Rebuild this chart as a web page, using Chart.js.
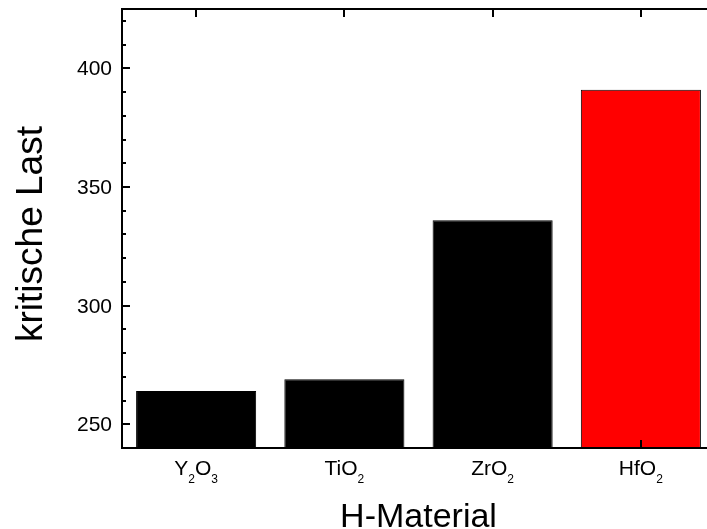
<!DOCTYPE html>
<html>
<head>
<meta charset="utf-8">
<script src="https://cdn.jsdelivr.net/npm/chart.js@4/dist/chart.umd.min.js"></script>
<style>
  html, body { margin: 0; padding: 0; overflow: hidden; background: #fff; width: 707px; height: 529px; }
  canvas { display: block; }
</style>
</head>
<body>
<canvas id="c" width="716" height="529"></canvas>
<script>
// Oxide materials (digits are drawn as subscripts)
const categories = ['Y2O3', 'TiO2', 'ZrO2', 'HfO2'];
// Critical load per material
const criticalLoad = [264, 269, 336, 391];
const barColors = ['#000000', '#000000', '#000000', '#ff0000'];
// Axis ticks
const yMajorTicks = [250, 300, 350, 400];
const yMinorTicks = [240, 260, 270, 280, 290, 310, 320, 330, 340, 360, 370, 380, 390, 410, 420];
const yMin = 240, yMax = 425;

const FONT = '"Liberation Sans", Arial, Helvetica, sans-serif';

// Draws the boxed frame, inward ticks, tick labels (with chemical subscripts) and axis titles
const framePlugin = {
  id: 'frame',
  afterDraw(chart) {
    const ctx = chart.ctx;
    const { left, right, top, bottom } = chart.chartArea;
    const xs = chart.scales.x, ys = chart.scales.y;
    ctx.save();
    ctx.strokeStyle = '#000';
    ctx.fillStyle = '#000';

    // frame
    ctx.lineWidth = 2;
    ctx.strokeRect(left, top, right - left, bottom - top);

    // y ticks on left and right, pointing inward
    ctx.lineWidth = 2;
    ctx.beginPath();
    yMajorTicks.forEach(v => {
      const y = Math.round(ys.getPixelForValue(v));
      ctx.moveTo(left, y); ctx.lineTo(left + 8, y);
      ctx.moveTo(right, y); ctx.lineTo(right - 8, y);
    });
    yMinorTicks.forEach(v => {
      const y = Math.round(ys.getPixelForValue(v));
      if (y <= top + 1 || y >= bottom - 1) return;
      ctx.moveTo(left, y); ctx.lineTo(left + 4, y);
      ctx.moveTo(right, y); ctx.lineTo(right - 4, y);
    });
    // x ticks at category centres, top and bottom
    categories.forEach((c, i) => {
      const x = Math.round(xs.getPixelForValue(i));
      ctx.moveTo(x, bottom); ctx.lineTo(x, bottom - 8);
      ctx.moveTo(x, top); ctx.lineTo(x, top + 8);
    });
    ctx.stroke();

    // y tick labels
    ctx.font = '21px ' + FONT;
    ctx.textAlign = 'right';
    ctx.textBaseline = 'alphabetic';
    yMajorTicks.forEach(v => {
      const y = ys.getPixelForValue(v);
      ctx.fillText(String(v), left - 10, y + 7);
    });

    // x tick labels with subscripts
    ctx.textAlign = 'left';
    const mainFont = '21px ' + FONT, subFont = '12px ' + FONT;
    categories.forEach((label, i) => {
      const parts = label.match(/(\d+|\D+)/g);
      let width = 0;
      parts.forEach(p => {
        ctx.font = /\d/.test(p) ? subFont : mainFont;
        width += ctx.measureText(p).width;
      });
      let x = xs.getPixelForValue(i) - width / 2;
      const base = bottom + 27;
      parts.forEach(p => {
        const sub = /\d/.test(p);
        ctx.font = sub ? subFont : mainFont;
        ctx.fillText(p, x, sub ? base + 8 : base);
        x += ctx.measureText(p).width;
      });
    });

    // axis titles
    ctx.textAlign = 'center';
    ctx.font = '34px ' + FONT;
    ctx.fillText('H-Material', (left + right) / 2, 527);
    ctx.font = '37px ' + FONT;
    ctx.translate(42, 234);
    ctx.rotate(-Math.PI / 2);
    ctx.fillText('kritische Last', 0, 0);
    ctx.restore();
  }
};

new Chart(document.getElementById('c'), {
  type: 'bar',
  data: {
    labels: categories,
    datasets: [{
      data: criticalLoad,
      backgroundColor: barColors,
      borderColor: '#000',
      borderWidth: 1,
      barPercentage: 0.81,
      categoryPercentage: 1.0
    }]
  },
  options: {
    responsive: false,
    animation: false,
    layout: { padding: { left: 122, top: 9, right: 1, bottom: 81 } },
    plugins: { legend: { display: false }, tooltip: { enabled: false } },
    scales: {
      x: { display: false, offset: true },
      y: { display: false, min: yMin, max: yMax }
    }
  },
  plugins: [framePlugin]
});
</script>
</body>
</html>
